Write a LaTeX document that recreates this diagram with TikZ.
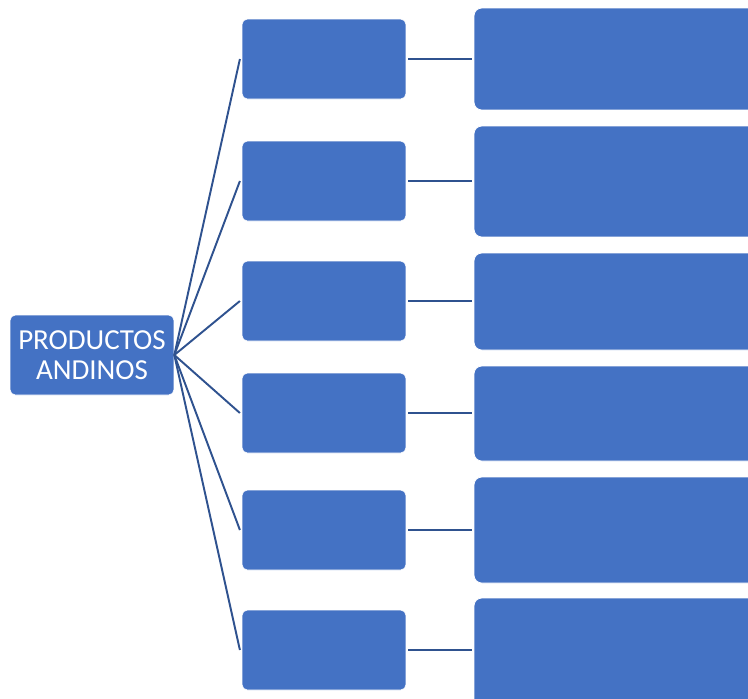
\documentclass[tikz,border=0pt]{standalone}
\usepackage{fontspec}
\setmainfont{Carlito}
\usepackage{tikz}
\usetikzlibrary{positioning}

\definecolor{boxblue}{HTML}{4472C4}
\definecolor{lineblue}{HTML}{2F528F}

\begin{document}
\begin{tikzpicture}
    [x=0.02cm, y=-0.02cm,
    rootnode/.style={rectangle, rounded corners=3pt, fill=boxblue, draw=white, line width=0.4pt, minimum width=3.28cm, minimum height=1.6cm, inner sep=0pt, align=center, text=white, font=\fontsize{16.5}{17}\selectfont},
    itemnode/.style={rectangle, rounded corners=3pt, fill=boxblue, draw=white, line width=0.4pt, minimum width=3.28cm, minimum height=1.6cm},
    infonode/.style={rectangle, rounded corners=4.5pt, fill=boxblue, draw=white, line width=0.4pt, minimum width=5.8cm},
    link/.style={draw=lineblue, line width=1.1pt},]

    \useasboundingbox (0,0) rectangle (748,698);
    \clip (0,0) rectangle (748,698);

     %Nodes
    \node[rootnode](root) at (92,355){PRODUCTOS\\ANDINOS};

    \node[itemnode](A) at (324,59){};
    \node[itemnode](B) at (324,181){};
    \node[itemnode](C) at (324,301){};
    \node[itemnode](D) at (324,413){};
    \node[itemnode](E) at (324,530){};
    \node[itemnode](F) at (324,650){};

    \node[infonode, minimum height=2.04cm](A2) at (619,59){};
    \node[infonode, minimum height=2.22cm](B2) at (619,181.5){};
    \node[infonode, minimum height=1.94cm](C2) at (619,301.5){};
    \node[infonode, minimum height=1.9cm](D2) at (619,413.5){};
    \node[infonode, minimum height=2.12cm](E2) at (619,530){};
    \node[infonode, minimum height=2.24cm](F2) at (619,654){};

    %Lines
    \draw[link](root.east)--([xshift=-1pt]A.west);
    \draw[link](root.east)--([xshift=-1pt]B.west);
    \draw[link](root.east)--([xshift=-1pt]C.west);
    \draw[link](root.east)--([xshift=-1pt]D.west);
    \draw[link](root.east)--([xshift=-1pt]E.west);
    \draw[link](root.east)--([xshift=-1pt]F.west);

    \draw[link]([xshift=1pt]A.east)--([xshift=-1pt]A2.west|-A.east);
    \draw[link]([xshift=1pt]B.east)--([xshift=-1pt]B2.west|-B.east);
    \draw[link]([xshift=1pt]C.east)--([xshift=-1pt]C2.west|-C.east);
    \draw[link]([xshift=1pt]D.east)--([xshift=-1pt]D2.west|-D.east);
    \draw[link]([xshift=1pt]E.east)--([xshift=-1pt]E2.west|-E.east);
    \draw[link]([xshift=1pt]F.east)--([xshift=-1pt]F2.west|-F.east);
\end{tikzpicture}
\end{document}
